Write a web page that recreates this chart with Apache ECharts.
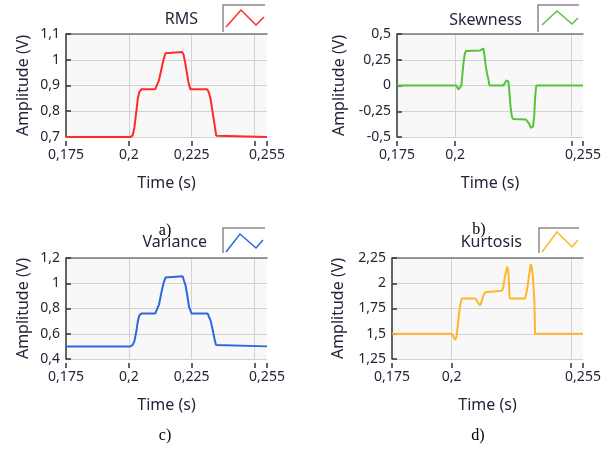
<!DOCTYPE html>
<html><head><meta charset="utf-8">
<script src="https://cdn.jsdelivr.net/npm/echarts@6/dist/echarts.min.js"></script>
<style>html,body{margin:0;padding:0;background:#fff}#c{width:613px;height:450px}</style>
</head><body><div id="c"></div>
<script>
// ---------- data ----------
const panelNames = ['RMS', 'Skewness', 'Variance', 'Kurtosis'];
const panelLetters = ['a)', 'b)', 'c)', 'd)'];
const xMin = 0.175, xMax = 0.255;
const xTicksWide = [0.175, 0.2, 0.225, 0.25, 0.255];
const xLabelsWide = [0.175, 0.2, 0.225, 0.255];
const xTicksNarrow = [0.175, 0.2, 0.25, 0.255];
const xLabelsNarrow = [0.175, 0.2, 0.255];
const xGridWide = [0.2, 0.225, 0.25];
const xGridNarrow = [0.2, 0.25];
const yRMS = [0.7, 1.1, 0.1];
const ySkew = [-0.5, 0.5, 0.25];
const yVar = [0.4, 1.2, 0.2];
const yKurt = [1.25, 2.25, 0.25];

const rmsPoints = [[0.175,0.70],[0.2005,0.70],[0.2015,0.705],[0.2022,0.735],[0.2030,0.80],[0.2036,0.85],[0.2042,0.875],[0.2050,0.885],[0.2105,0.885],[0.2112,0.89],[0.2120,0.92],[0.2129,0.96],[0.2138,1.00],[0.2146,1.025],[0.2152,1.03],[0.2212,1.03],[0.2218,1.02],[0.2224,0.99],[0.2231,0.95],[0.2238,0.91],[0.2245,0.885],[0.2312,0.885],[0.2318,0.875],[0.2325,0.85],[0.2333,0.80],[0.2341,0.75],[0.2348,0.705],[0.2352,0.70],[0.255,0.70]];
const skewPoints = [[0.175,0],[0.2005,0],[0.2010,-0.02],[0.2014,-0.04],[0.2020,-0.03],[0.2027,0.0],[0.2031,0.10],[0.2036,0.22],[0.2041,0.30],[0.2046,0.335],[0.2108,0.34],[0.2116,0.35],[0.2121,0.36],[0.2126,0.30],[0.2131,0.20],[0.2137,0.12],[0.2143,0.06],[0.2148,0.0],[0.2206,0.0],[0.2214,0.02],[0.2220,0.05],[0.2225,0.063],[0.2229,0.04],[0.2233,-0.05],[0.2238,-0.20],[0.2244,-0.30],[0.2249,-0.325],[0.2305,-0.33],[0.2312,-0.34],[0.2318,-0.37],[0.2325,-0.41],[0.2330,-0.425],[0.2335,-0.40],[0.2340,-0.30],[0.2344,-0.12],[0.2348,-0.02],[0.2350,0],[0.255,0]];
const varPoints = [[0.175,0.50],[0.2005,0.50],[0.2015,0.51],[0.2022,0.54],[0.2030,0.62],[0.2036,0.70],[0.2042,0.745],[0.2050,0.76],[0.2105,0.76],[0.2112,0.77],[0.2120,0.83],[0.2129,0.92],[0.2138,1.00],[0.2146,1.045],[0.2152,1.055],[0.2214,1.055],[0.2220,1.04],[0.2226,0.98],[0.2233,0.90],[0.2240,0.81],[0.2250,0.76],[0.2314,0.76],[0.2320,0.745],[0.2326,0.70],[0.2334,0.63],[0.2341,0.56],[0.2347,0.51],[0.2351,0.50],[0.255,0.50]];
const kurtPoints = [[0.175,1.5],[0.2000,1.5],[0.2007,1.47],[0.2014,1.44],[0.2020,1.47],[0.2025,1.57],[0.2030,1.68],[0.2035,1.77],[0.2040,1.83],[0.2043,1.85],[0.2098,1.85],[0.2105,1.83],[0.2112,1.80],[0.2119,1.78],[0.2125,1.82],[0.2133,1.88],[0.2140,1.91],[0.2147,1.925],[0.2210,1.925],[0.2216,1.96],[0.2222,2.05],[0.2226,2.10],[0.2229,2.09],[0.2233,2.165],[0.2237,2.12],[0.2240,2.00],[0.2242,1.88],[0.2244,1.85],[0.2307,1.85],[0.2313,1.90],[0.2318,1.97],[0.2323,2.06],[0.2327,2.12],[0.2331,2.19],[0.2335,2.16],[0.2339,2.09],[0.2343,1.95],[0.2346,1.84],[0.2348,1.65],[0.2349,1.5],[0.255,1.5]];

// ---------- layout / style ----------
const TXT = '#25253a';
const FONT = '"Noto Sans", "DejaVu Sans", sans-serif';
const panels = [
  {data: rmsPoints,  y: yRMS,  color: '#ff2a2a', grid: {left: 66, top: 34, width: 201, height: 103}, ticks: xTicksWide, labels: xLabelsWide, vgrid: xGridWide, nameGap: 35,
   title: [198, 19], box: [223, 5, 265, 32], zig: [[226,27],[241,10],[256,25],[264,17]], letter: [165, 231]},
  {data: skewPoints, y: ySkew, color: '#55c43a', grid: {left: 397, top: 34, width: 186, height: 103}, ticks: xTicksNarrow, labels: xLabelsNarrow, vgrid: xGridNarrow, nameGap: 50,
   title: [522, 20], box: [538, 5, 579, 32], zig: [[542,25],[557,11],[572,24],[578,18]], letter: [479, 230]},
  {data: varPoints,  y: yVar,  color: '#2f66e0', grid: {left: 66, top: 258, width: 201, height: 101}, ticks: xTicksWide, labels: xLabelsWide, vgrid: xGridWide, nameGap: 35,
   title: [207, 242], box: [223, 228, 265, 253], zig: [[226,252],[240,234],[256,248],[263,240]], letter: [165, 436]},
  {data: kurtPoints, y: yKurt, color: '#ffb52e', grid: {left: 392, top: 258, width: 191, height: 101}, ticks: xTicksNarrow, labels: xLabelsNarrow, vgrid: xGridNarrow, nameGap: 46,
   title: [522, 242], box: [539, 228, 579, 253], zig: [[542,252],[557,232],[572,247],[578,240]], letter: [478, 436]}
];

const fmt = v => String(parseFloat((+v).toFixed(4))).replace('.', ',');

const grid = [], xAxis = [], yAxis = [], series = [], graphic = [];
panels.forEach((p, i) => {
  grid.push(Object.assign({show: true, backgroundColor: '#f8f8f8', borderWidth: 0}, p.grid));
  // bottom axis with labels/ticks
  xAxis.push({
    type: 'value', gridIndex: i, min: xMin, max: xMax, position: 'bottom', offset: 4,
    axisLine: {show: false, onZero: false},
    axisTick: {show: true, length: 5, customValues: p.ticks, lineStyle: {color: '#333', width: 1.5}},
    axisLabel: {customValues: p.labels, formatter: fmt, color: TXT, fontSize: 14, fontFamily: FONT, margin: 7},
    splitLine: {show: false},
    name: 'Time (s)', nameLocation: 'middle', nameGap: 34,
    nameTextStyle: {color: TXT, fontSize: 16, fontFamily: FONT}
  });
  // top helper axis: top border + vertical grid lines
  xAxis.push({
    type: 'value', gridIndex: i, min: xMin, max: xMax, position: 'top',
    axisLine: {show: true, onZero: false, lineStyle: {color: '#7a7a7a', width: 1.5}},
    axisTick: {show: false, customValues: p.vgrid},
    axisLabel: {show: false},
    splitLine: {show: true, lineStyle: {color: '#d2d2d2', width: 1}}
  });
  yAxis.push({
    type: 'value', gridIndex: i, min: p.y[0], max: p.y[1], interval: p.y[2],
    axisLine: {show: true, onZero: false, lineStyle: {color: '#333', width: 1.5}},
    axisTick: {show: true, inside: true, length: 5, lineStyle: {color: '#333', width: 1.5}},
    axisLabel: {formatter: fmt, color: TXT, fontSize: 14, fontFamily: FONT, margin: 6},
    splitLine: {show: true, lineStyle: {color: '#d2d2d2', width: 1}},
    name: 'Amplitude (V)', nameLocation: 'middle', nameGap: p.nameGap, nameRotate: 90,
    nameTextStyle: {color: TXT, fontSize: 16, fontFamily: FONT}
  });
  series.push({
    type: 'line', name: panelNames[i], xAxisIndex: 2 * i, yAxisIndex: i, data: p.data,
    showSymbol: false, symbol: 'none', lineStyle: {color: p.color, width: 2}, itemStyle: {color: p.color},
    z: 3, animation: false
  });
  graphic.push({type: 'text', x: p.title[0], y: p.title[1],
    style: {text: panelNames[i], fill: TXT, font: '16px ' + FONT, align: 'right', verticalAlign: 'middle'}});
  graphic.push({type: 'polyline', shape: {points: [[p.box[0], p.box[3]], [p.box[0], p.box[1]], [p.box[2], p.box[1]]]},
    style: {stroke: '#8a8a8a', lineWidth: 1.5, fill: null}});
  graphic.push({type: 'polyline', shape: {points: p.zig}, style: {stroke: p.color, lineWidth: 1.5, fill: null}});
  graphic.push({type: 'text', x: p.letter[0], y: p.letter[1],
    style: {text: panelLetters[i], fill: '#000', font: '16px "Liberation Serif", "Times New Roman", serif', align: 'center', verticalAlign: 'middle'}});
});

const chart = echarts.init(document.getElementById('c'), null, {renderer: 'canvas'});
chart.setOption({animation: false, backgroundColor: '#fff', grid, xAxis, yAxis, series, graphic});
</script></body></html>
